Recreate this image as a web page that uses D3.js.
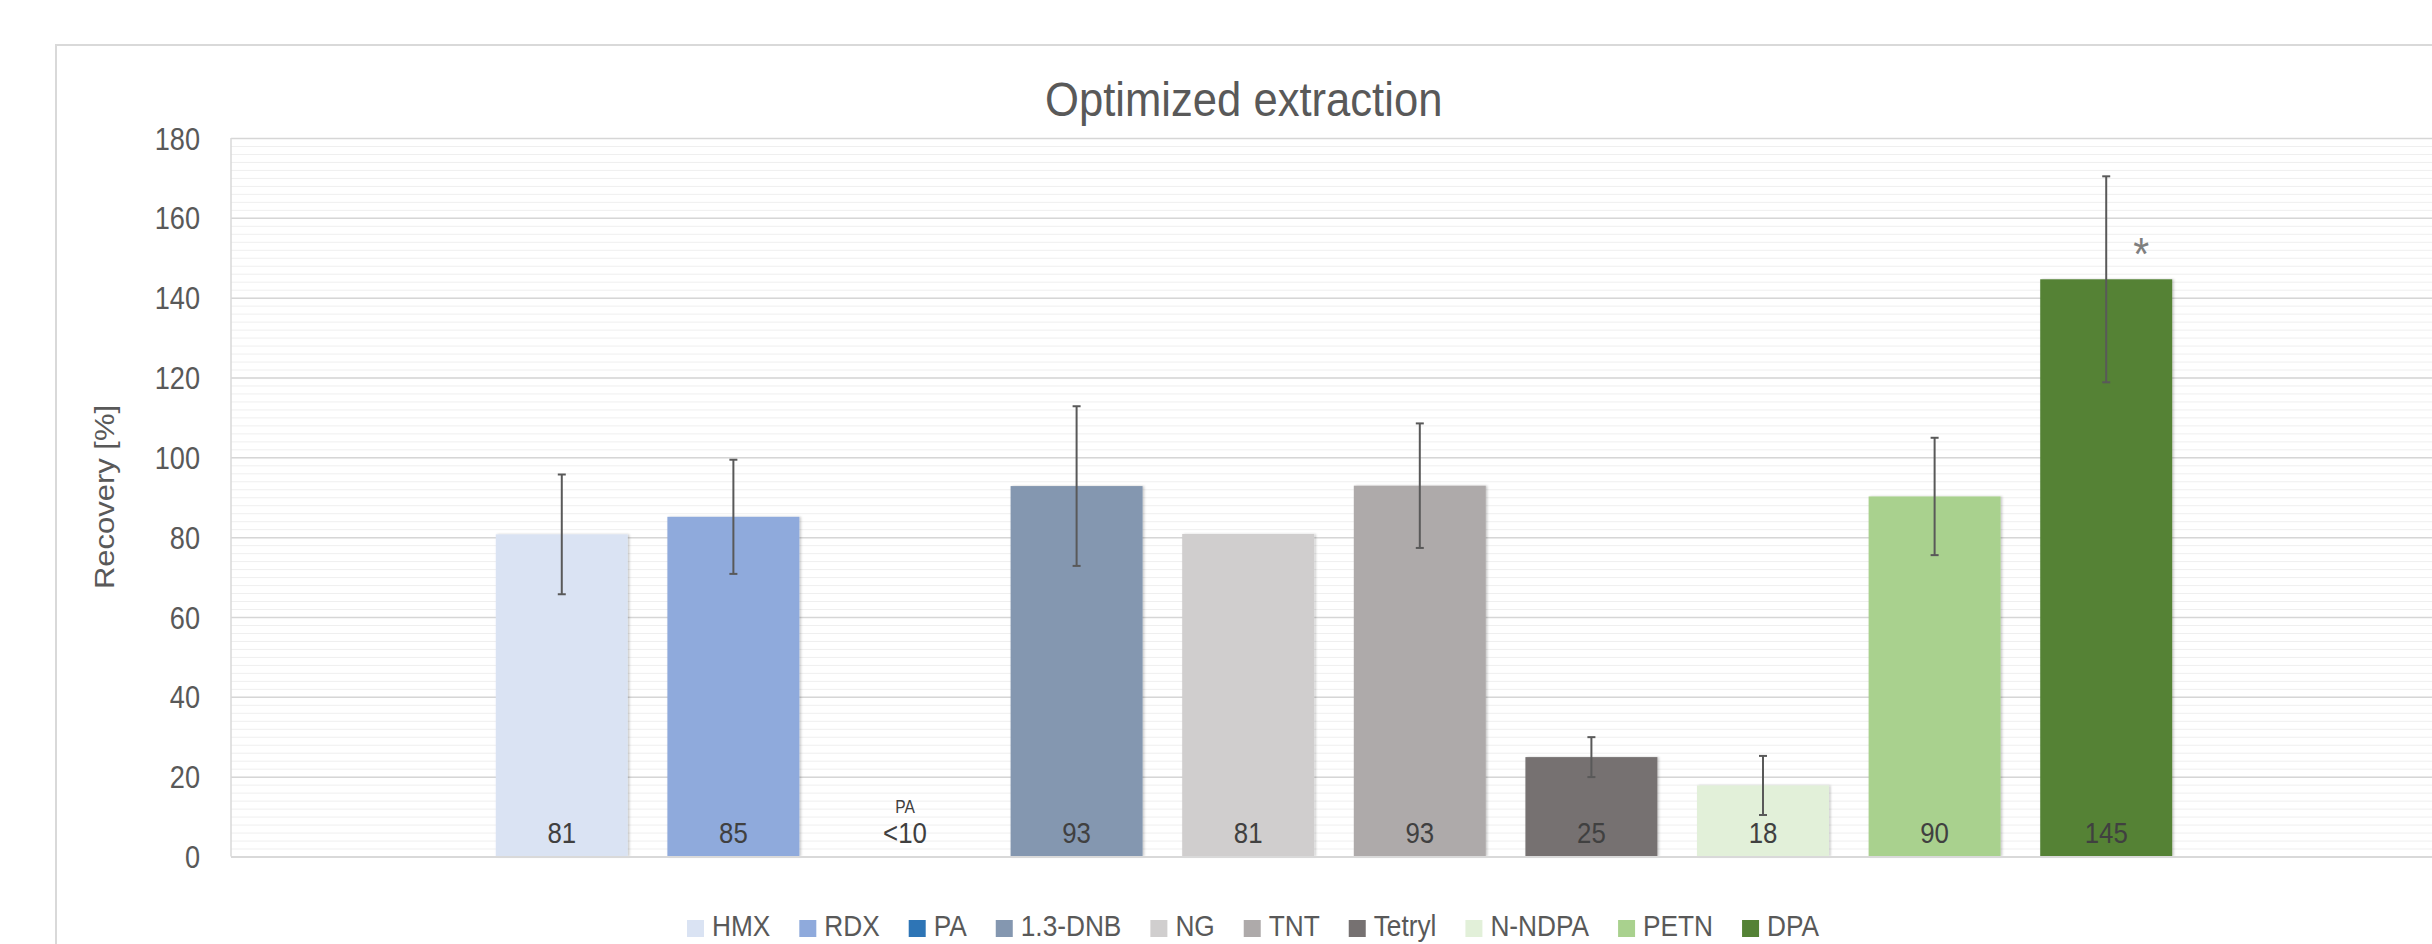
<!DOCTYPE html>
<html><head><meta charset="utf-8">
<script src="https://cdn.jsdelivr.net/npm/d3@7"></script>
<style>
html,body{margin:0;padding:0;background:#fff;}
svg{display:block;}
text{font-family:"Liberation Sans",Arial,sans-serif;}
</style></head>
<body>
<script>
// ---- data ----
const categories = ["HMX","RDX","PA","1.3-DNB","NG","TNT","Tetryl","N-NDPA","PETN","DPA"];
const recovery   = [80.7, 85.1, 0, 92.8, 80.8, 92.9, 24.9, 17.8, 90.2, 144.6];
const errorBars  = [15, 14.3, 0, 20, 0, 15.6, 5, 7.4, 14.7, 25.8];
const valueLabels = ["81","85","<10","93","81","93","25","18","90","145"];
const subLabels  = ["","","PA","","","","","","",""];
const colors = ["#dae3f3","#8faadc","#2e75b6","#8497b0","#d0cece","#aeaaaa","#767171","#e2f0d9","#a9d18e","#548235"];
const yTicks = [0,20,40,60,80,100,120,140,160,180];
const titleText = "Optimized extraction";
const yTitle = "Recovery [%]";
const starNote = {category:"DPA", text:"*"};

// ---- layout ----
const W = 2432, H = 944;
const SX = 0.89; // horizontal text compression
const plot = {left:231, right:2437, top:138, bottom:856.5};

const svg = d3.select("body").append("svg").attr("width", W).attr("height", H);
const defs = svg.append("defs");
const f = defs.append("filter").attr("id","sh").attr("x","-10%").attr("y","-10%").attr("width","130%").attr("height","120%");
f.append("feDropShadow").attr("dx",1.5).attr("dy",0).attr("stdDeviation",1.2).attr("flood-color","#000").attr("flood-opacity",0.22);

// chart border
svg.append("rect").attr("x",56).attr("y",45).attr("width",W).attr("height",H)
  .attr("fill","#fff").attr("stroke","#d9d9d9").attr("stroke-width",2);

function sText(g, x, y, str, opts) {
  const t = g.append("text")
    .attr("transform", `translate(${x},${y}) scale(${SX},1)`)
    .attr("text-anchor", opts.anchor || "middle")
    .attr("font-size", opts.size)
    .attr("fill", opts.fill || "#595959")
    .text(str);
  return t;
}

// scales
const y = d3.scaleLinear().domain([0,180]).range([plot.bottom, plot.top]);
const x = d3.scaleBand().domain(categories).range([plot.left, plot.right])
  .paddingInner(0.2308).paddingOuter(1.543).align(0.5);

// minor gridlines
svg.append("g").attr("transform",`translate(${plot.left},0)`)
  .call(d3.axisLeft(y).tickValues(d3.range(0,181,2)).tickSize(-(plot.right-plot.left)).tickFormat(""))
  .call(g=>g.select(".domain").remove())
  .call(g=>g.selectAll("line").attr("stroke","#efefef").attr("stroke-width",1));
// major gridlines
svg.append("g").attr("transform",`translate(${plot.left},0)`)
  .call(d3.axisLeft(y).tickValues(yTicks).tickSize(-(plot.right-plot.left)).tickFormat(""))
  .call(g=>g.select(".domain").remove())
  .call(g=>g.selectAll("line").attr("stroke","#d6d6d6").attr("stroke-width",1.5));
// left plot edge
svg.append("line").attr("x1",plot.left).attr("x2",plot.left).attr("y1",plot.top).attr("y2",plot.bottom)
  .attr("stroke","#d9d9d9").attr("stroke-width",1.5);

// y axis labels
const ya = svg.append("g").attr("transform",`translate(${plot.left},0)`)
  .call(d3.axisLeft(y).tickValues(yTicks).tickSize(0).tickPadding(31));
ya.select(".domain").remove();
ya.selectAll("text")
  .attr("font-family","'Liberation Sans',Arial,sans-serif")
  .attr("font-size",30.5).attr("fill","#595959")
  .attr("dy",null).attr("x",null)
  .attr("transform",`translate(-31,11) scale(${SX},1)`);

// bars
const data = categories.map((c,i)=>({c, v:recovery[i], e:errorBars[i], lab:valueLabels[i], sub:subLabels[i], col:colors[i]}));
svg.append("g").selectAll("rect").data(data.filter(d=>d.v>0)).join("rect")
  .attr("x",d=>x(d.c)).attr("width",x.bandwidth())
  .attr("y",d=>y(d.v)).attr("height",d=>y(0)-y(d.v))
  .attr("fill",d=>d.col).attr("filter","url(#sh)");

// x axis line
svg.append("line").attr("x1",plot.left).attr("x2",plot.right).attr("y1",y(0)+0.5).attr("y2",y(0)+0.5)
  .attr("stroke","#d9d9d9").attr("stroke-width",2);

// error bars
const eg = svg.append("g").attr("stroke","#595959").attr("stroke-width",2);
data.filter(d=>d.e>0).forEach(d=>{
  const cx = x(d.c)+x.bandwidth()/2;
  eg.append("line").attr("x1",cx).attr("x2",cx).attr("y1",y(d.v+d.e)).attr("y2",y(d.v-d.e));
  eg.append("line").attr("x1",cx-4).attr("x2",cx+4).attr("y1",y(d.v+d.e)).attr("y2",y(d.v+d.e));
  eg.append("line").attr("x1",cx-4).attr("x2",cx+4).attr("y1",y(d.v-d.e)).attr("y2",y(d.v-d.e));
});

// value labels
const lg = svg.append("g");
data.forEach(d=>{
  const cx = x(d.c)+x.bandwidth()/2;
  sText(lg, cx, 843.3, d.lab, {size:29, fill:"#404040"});
  if (d.sub) sText(lg, cx, 813.3, d.sub, {size:17.5, fill:"#404040"});
});

// star note
{
  const cx = x(starNote.category)+x.bandwidth()/2 + 35;
  sText(svg, cx, 270, starNote.text, {size:46, fill:"#7f7f7f"});
}

// title
sText(svg, 1243.7, 115.8, titleText, {size:49, fill:"#595959"});

// y title
svg.append("text")
  .attr("transform",`translate(114,497) rotate(-90) scale(1,${SX})`)
  .attr("text-anchor","middle").attr("font-size",31).attr("fill","#595959")
  .text(yTitle);

// legend
const leg = svg.append("g");
let lx = 687;
categories.forEach((c,i)=>{
  leg.append("rect").attr("x",lx).attr("y",920).attr("width",17).attr("height",17).attr("fill",colors[i]);
  const t = sText(leg, lx+25, 936, c, {size:29.5, anchor:"start"});
  const w = t.node().getComputedTextLength()*SX;
  lx += 25 + w + 29;
});
</script>
</body></html>
